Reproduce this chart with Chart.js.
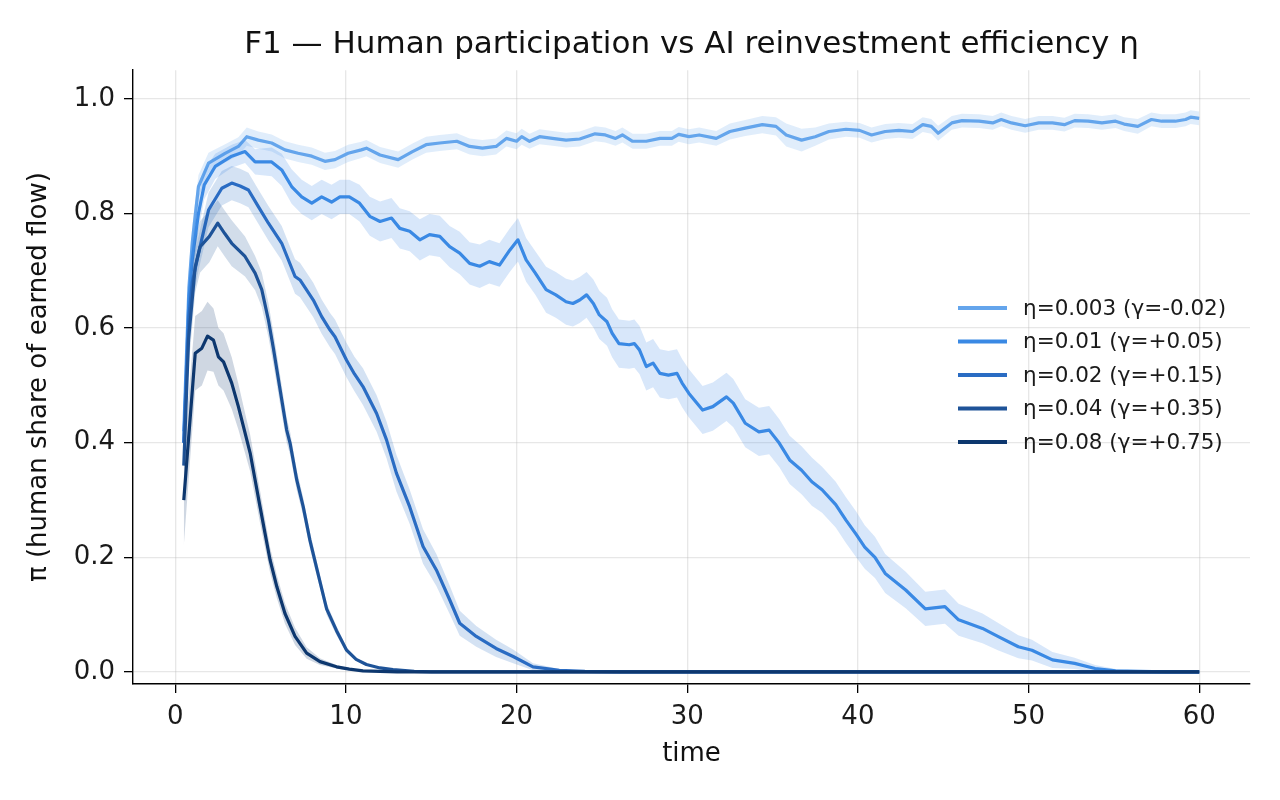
<!DOCTYPE html>
<html>
<head>
<meta charset="utf-8">
<script src="https://cdn.jsdelivr.net/npm/chart.js@4.4.1/dist/chart.umd.min.js"></script>
<style>
  html, body { margin: 0; padding: 0; background: #fff; }
  #wrap { width: 1280px; height: 800px; }
</style>
</head>
<body>
<div id="wrap"><canvas id="chart" width="1280" height="800"></canvas></div>
<script>
// Series (time, mean pi, half band width)
const seriesLabels = ['η=0.003 (γ=-0.02)', 'η=0.01 (γ=+0.05)', 'η=0.02 (γ=+0.15)', 'η=0.04 (γ=+0.35)', 'η=0.08 (γ=+0.75)'];
const seriesColors = ['#64a5ec', '#3a89e4', '#2a6cc3', '#1e5398', '#0d376e'];

const tEta003 = [0.5,0.8,1.0,1.36,1.95,2.92,3.7,4.19,4.87,5.65,6.43,7.2,8.0,8.77,9.36,10.13,10.9,11.2,12.0,13.06,13.9,14.7,15.5,16.5,17.25,18.0,18.8,19.4,20.0,20.3,20.76,21.35,22.1,22.9,23.7,24.6,25.2,25.8,26.2,26.8,27.6,28.4,29.1,29.5,30.1,30.7,31.7,32.5,33.4,34.4,35.2,35.8,36.7,37.5,38.3,39.3,40.1,40.8,41.6,42.4,43.2,43.8,44.3,44.7,45.5,46.1,47.1,47.9,48.4,49.0,49.8,50.6,51.4,52.1,52.7,53.5,54.3,55.1,55.6,56.4,57.2,57.8,58.6,59.2,59.5,60];
const piEta003 = [0.42,0.67,0.75,0.847,0.888,0.905,0.917,0.934,0.928,0.923,0.911,0.905,0.9,0.891,0.894,0.905,0.911,0.914,0.902,0.894,0.908,0.92,0.923,0.926,0.917,0.914,0.917,0.931,0.926,0.934,0.926,0.934,0.931,0.928,0.93,0.939,0.937,0.931,0.937,0.926,0.926,0.931,0.931,0.938,0.934,0.937,0.931,0.943,0.949,0.955,0.952,0.937,0.928,0.934,0.943,0.947,0.945,0.937,0.943,0.945,0.943,0.955,0.952,0.94,0.958,0.962,0.961,0.958,0.964,0.958,0.953,0.958,0.958,0.955,0.962,0.961,0.958,0.961,0.956,0.952,0.964,0.961,0.961,0.964,0.968,0.966];
const sdEta003 = [0.05,0.035,0.03,0.02,0.018,0.016,0.016,0.016,0.015,0.015,0.015,0.015,0.015,0.015,0.015,0.015,0.014,0.014,0.014,0.014,0.014,0.014,0.014,0.014,0.014,0.014,0.014,0.014,0.014,0.014,0.013,0.013,0.013,0.013,0.013,0.013,0.013,0.013,0.013,0.013,0.013,0.013,0.013,0.013,0.013,0.013,0.013,0.014,0.014,0.015,0.016,0.02,0.02,0.016,0.014,0.013,0.013,0.013,0.013,0.013,0.013,0.013,0.013,0.013,0.012,0.012,0.012,0.012,0.012,0.012,0.012,0.012,0.012,0.012,0.012,0.012,0.012,0.012,0.012,0.013,0.012,0.012,0.012,0.012,0.012,0.012];

const tEta01 = [0.5,0.8,1.0,1.36,1.7,2.34,3.31,4.09,4.68,5.65,6.24,6.82,7.41,8.0,8.58,9.16,9.65,10.2,10.8,11.4,12.0,12.67,13.16,13.74,14.33,14.9,15.5,16.08,16.67,17.25,17.84,18.4,19.0,19.6,20.08,20.56,21.1,21.73,22.3,22.9,23.3,23.7,24.1,24.5,24.85,25.3,25.6,26.0,26.6,26.9,27.2,27.6,28.0,28.4,28.9,29.4,29.7,30.1,30.9,31.5,32.3,32.7,33.4,34.2,34.8,35.4,36.0,36.7,37.3,37.9,38.7,39.3,39.9,40.4,41.0,41.6,42.8,43.95,45.1,45.9,47.3,48.2,49.4,50.2,51.4,52.7,53.9,55.1,56.5,58,60];
const piEta01 = [0.40,0.65,0.72,0.80,0.85,0.882,0.9,0.908,0.89,0.89,0.876,0.847,0.829,0.818,0.829,0.82,0.829,0.829,0.818,0.795,0.786,0.792,0.774,0.769,0.754,0.763,0.76,0.742,0.731,0.713,0.708,0.716,0.71,0.736,0.754,0.719,0.696,0.667,0.658,0.646,0.643,0.649,0.658,0.643,0.623,0.611,0.591,0.573,0.571,0.573,0.562,0.533,0.539,0.521,0.518,0.521,0.504,0.486,0.457,0.463,0.48,0.469,0.434,0.419,0.422,0.399,0.37,0.352,0.332,0.318,0.292,0.265,0.24,0.218,0.2,0.172,0.143,0.11,0.114,0.091,0.076,0.062,0.044,0.038,0.021,0.015,0.006,0.002,0.001,0,0];
const sdEta01 = [0.05,0.04,0.035,0.03,0.025,0.022,0.02,0.02,0.022,0.025,0.028,0.03,0.03,0.03,0.03,0.03,0.03,0.03,0.032,0.034,0.035,0.035,0.035,0.035,0.036,0.036,0.036,0.036,0.037,0.037,0.038,0.038,0.038,0.038,0.038,0.038,0.038,0.04,0.04,0.04,0.04,0.04,0.04,0.042,0.042,0.042,0.042,0.042,0.042,0.042,0.042,0.042,0.042,0.042,0.042,0.042,0.042,0.042,0.042,0.042,0.042,0.042,0.042,0.042,0.042,0.042,0.042,0.042,0.042,0.04,0.04,0.04,0.04,0.038,0.036,0.034,0.032,0.03,0.03,0.028,0.026,0.024,0.02,0.018,0.014,0.01,0.006,0.003,0.001,0,0];

const tEta02 = [0.5,0.8,1.0,1.36,1.95,2.73,3.31,3.8,4.29,4.87,5.46,6.24,7.02,7.31,8.09,8.58,9.06,9.36,10.04,10.5,11.0,11.8,12.38,12.96,13.74,14.52,15.3,16.08,16.67,17.64,18.8,19.8,20.96,22.5,24,26,60];
const piEta02 = [0.40,0.62,0.68,0.73,0.806,0.844,0.853,0.848,0.841,0.812,0.783,0.748,0.69,0.684,0.649,0.62,0.597,0.585,0.544,0.52,0.498,0.451,0.405,0.347,0.288,0.219,0.178,0.126,0.085,0.062,0.041,0.027,0.009,0.003,0.001,0,0];
const sdEta02 = [0.05,0.04,0.035,0.03,0.03,0.03,0.03,0.03,0.03,0.03,0.03,0.03,0.03,0.03,0.03,0.03,0.03,0.03,0.03,0.03,0.032,0.032,0.032,0.032,0.03,0.03,0.028,0.025,0.022,0.018,0.015,0.012,0.006,0.002,0.001,0,0];

const tEta04 = [0.5,0.78,1.17,1.46,2.0,2.49,2.9,3.31,4.09,4.68,5.07,5.46,5.75,6.24,6.53,6.73,7.12,7.5,7.89,8.38,8.87,9.45,10.04,10.6,11.2,12.0,12.76,14,15,60];
const piEta04 = [0.36,0.58,0.707,0.742,0.76,0.783,0.765,0.748,0.725,0.696,0.667,0.614,0.565,0.475,0.422,0.399,0.335,0.288,0.23,0.17,0.11,0.072,0.038,0.022,0.013,0.007,0.004,0.001,0,0];
const sdEta04 = [0.05,0.05,0.045,0.045,0.045,0.04,0.04,0.04,0.035,0.03,0.03,0.03,0.028,0.025,0.022,0.02,0.018,0.016,0.015,0.012,0.01,0.008,0.005,0.003,0.002,0.001,0.001,0,0,0];

const tEta08 = [0.5,1.17,1.56,1.89,2.24,2.53,2.83,3.31,3.7,4.09,4.39,4.68,4.97,5.26,5.56,5.95,6.43,7.02,7.7,8.48,9.45,10.2,11,12,13,60];
const piEta08 = [0.30,0.556,0.565,0.586,0.579,0.55,0.541,0.504,0.463,0.417,0.382,0.335,0.288,0.242,0.195,0.149,0.102,0.062,0.033,0.018,0.009,0.005,0.002,0.001,0,0];
const sdEta08 = [0.08,0.065,0.065,0.06,0.055,0.05,0.05,0.045,0.04,0.035,0.032,0.03,0.028,0.025,0.022,0.02,0.018,0.015,0.01,0.006,0.003,0.002,0.001,0,0,0];

const xTicks = [0, 10, 20, 30, 40, 50, 60];
const yTicks = [0.0, 0.2, 0.4, 0.6, 0.8, 1.0];

const seriesT = [tEta003, tEta01, tEta02, tEta04, tEta08];
const seriesPi = [piEta003, piEta01, piEta02, piEta04, piEta08];
const seriesSd = [sdEta003, sdEta01, sdEta02, sdEta04, sdEta08];

function hexA(hex, a) {
  const n = parseInt(hex.slice(1), 16);
  return `rgba(${(n >> 16) & 255},${(n >> 8) & 255},${n & 255},${a})`;
}

const FONT = "'DejaVu Sans', sans-serif";

// build band (lower, upper) + mean line for each series
const datasets = [];
seriesT.forEach((ts, k) => {
  const pi = seriesPi[k], sd = seriesSd[k];
  const base = 40 - 3 * k;
  datasets.push({
    data: ts.map((t, i) => ({ x: t, y: pi[i] - sd[i] })),
    borderWidth: 0, pointRadius: 0, fill: false, order: base
  });
  datasets.push({
    data: ts.map((t, i) => ({ x: t, y: pi[i] + sd[i] })),
    borderWidth: 0, pointRadius: 0, fill: '-1',
    backgroundColor: hexA(seriesColors[k], 0.2), order: base - 1
  });
  datasets.push({
    label: seriesLabels[k],
    data: ts.map((t, i) => ({ x: t, y: pi[i] })),
    borderColor: seriesColors[k], borderWidth: 3.2, pointRadius: 0,
    fill: false, tension: 0, order: base - 2,
    borderJoinStyle: 'round', borderCapStyle: 'butt'
  });
});

// matplotlib-style legend inside plot area, no frame
const innerLegend = {
  id: 'innerLegend',
  afterDatasetsDraw(chart) {
    const { ctx, chartArea } = chart;
    const x0 = chartArea.right - 292;
    const rowH = 33.5;
    const yMid = (chartArea.top + chartArea.bottom) / 2 - 2;
    const y0 = yMid - 2 * rowH;
    ctx.save();
    ctx.font = `21.5px ${FONT}`;
    ctx.textBaseline = 'middle';
    ctx.fillStyle = '#1a1a1a';
    seriesLabels.forEach((lab, k) => {
      const y = y0 + k * rowH;
      ctx.strokeStyle = seriesColors[k];
      ctx.lineWidth = 4;
      ctx.beginPath();
      ctx.moveTo(x0, y);
      ctx.lineTo(x0 + 49, y);
      ctx.stroke();
      ctx.fillText(lab, x0 + 65, y + 1);
    });
    ctx.restore();
  }
};

new Chart(document.getElementById('chart'), {
  type: 'line',
  data: { datasets },
  plugins: [innerLegend],
  options: {
    responsive: false,
    animation: false,
    devicePixelRatio: 1,
    layout: { padding: { left: 0, right: 30, top: 0, bottom: 0 } },
    plugins: {
      legend: { display: false },
      tooltip: { enabled: false },
      title: {
        display: true,
        fullSize: false,
        text: 'F1 — Human participation vs AI reinvestment efficiency η',
        color: '#111',
        font: { family: FONT, size: 31, weight: 'normal' },
        padding: { top: 26, bottom: 7 }
      }
    },
    scales: {
      x: {
        type: 'linear',
        min: -2.475, max: 62.975,
        afterBuildTicks: s => { s.ticks = xTicks.map(v => ({ value: v })); },
        afterFit: s => { s.height = 116; },
        ticks: {
          color: '#1a1a1a', font: { family: FONT, size: 26 }, padding: 9,
          callback: v => String(v), maxRotation: 0
        },
        grid: { color: 'rgba(176,176,176,0.3)', lineWidth: 1.3, tickColor: '#000', tickLength: 9, tickWidth: 1.3 },
        border: { display: true, color: '#000', width: 1.4 },
        title: {
          display: true, text: 'time', color: '#111',
          font: { family: FONT, size: 26 }, padding: { top: 0, bottom: 30 }
        }
      },
      y: {
        type: 'linear',
        min: -0.021, max: 1.05,
        afterBuildTicks: s => { s.ticks = yTicks.map(v => ({ value: v })); },
        afterFit: s => { s.width = 133; },
        ticks: {
          color: '#1a1a1a', font: { family: FONT, size: 26 }, padding: 9,
          callback: v => v.toFixed(1)
        },
        grid: { color: 'rgba(176,176,176,0.3)', lineWidth: 1.3, tickColor: '#000', tickLength: 9, tickWidth: 1.3 },
        border: { display: true, color: '#000', width: 1.4 },
        title: {
          display: true, text: 'π (human share of earned flow)', color: '#111',
          font: { family: FONT, size: 26 }, padding: { top: 24, bottom: 0 }
        }
      }
    }
  }
});
</script>
</body>
</html>
